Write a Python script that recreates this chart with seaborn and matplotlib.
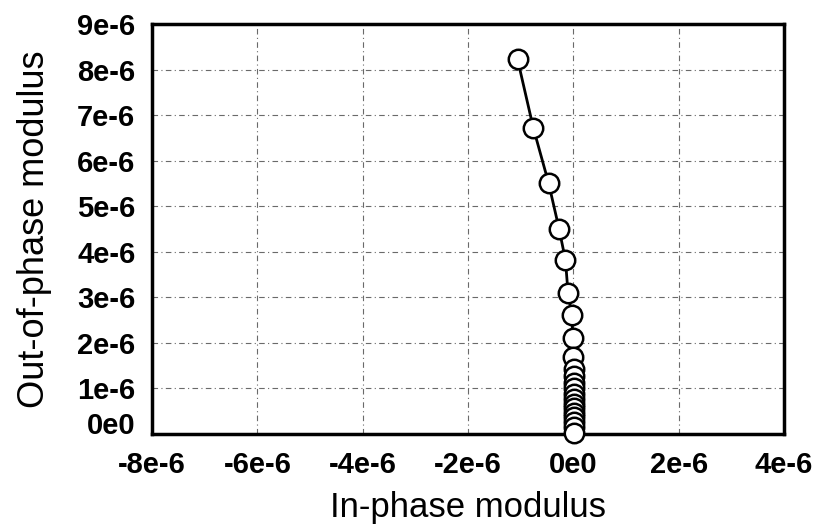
import numpy as np
import matplotlib.pyplot as plt
import seaborn as sns
import pandas as pd
from matplotlib.ticker import MultipleLocator

# in-phase / out-of-phase modulus values
in_phase = [-1.06e-6, -0.76e-6, -0.47e-6, -0.27e-6, -0.15e-6, -0.10e-6, -0.03e-6,
            -0.01e-6, 0.0, 0.01e-6, 0.01e-6, 0.02e-6, 0.02e-6, 0.02e-6, 0.02e-6,
            0.02e-6, 0.02e-6, 0.02e-6, 0.02e-6, 0.02e-6, 0.02e-6, 0.02e-6]
out_phase = [8.23e-6, 6.72e-6, 5.51e-6, 4.50e-6, 3.82e-6, 3.09e-6, 2.61e-6,
             2.11e-6, 1.69e-6, 1.43e-6, 1.27e-6, 1.13e-6, 1.00e-6, 0.88e-6, 0.77e-6,
             0.66e-6, 0.56e-6, 0.46e-6, 0.37e-6, 0.27e-6, 0.15e-6, 0.02e-6]

x_ticks = [-8e-6, -6e-6, -4e-6, -2e-6, 0, 2e-6, 4e-6]
x_labels = ["-8e-6", "-6e-6", "-4e-6", "-2e-6", "0e0", "2e-6", "4e-6"]
y_ticks = [0, 1e-6, 2e-6, 3e-6, 4e-6, 5e-6, 6e-6, 7e-6, 8e-6, 9e-6]
y_labels = ["0e0", "1e-6", "2e-6", "3e-6", "4e-6", "5e-6", "6e-6", "7e-6", "8e-6", "9e-6"]

df = pd.DataFrame({"x": in_phase, "y": out_phase})

sns.set_style("white")
plt.rcParams['font.family'] = ['Liberation Sans', 'DejaVu Sans']
plt.rcParams.update({'text.color': 'black', 'axes.labelcolor': 'black',
                     'xtick.color': 'black', 'ytick.color': 'black'})

fig = plt.figure(figsize=(8.19, 5.28), dpi=100)
ax = fig.add_axes([152/819, 1 - 434/528, (784-152)/819, (434-24)/528])

sns.lineplot(data=df, x="x", y="y", sort=False, estimator=None, color="black",
             linewidth=2, marker="o", markersize=14, markerfacecolor="white",
             markeredgecolor="black", markeredgewidth=1.8, ax=ax, zorder=3,
             clip_on=False)

ax.set_xlim(-8e-6, 4e-6)
ax.set_ylim(0, 9e-6)
ax.set_xticks(x_ticks, x_labels)
ax.set_yticks(y_ticks, y_labels)
ax.xaxis.set_minor_locator(MultipleLocator(0.5e-6))
ax.yaxis.set_minor_locator(MultipleLocator(0.2e-6))

ax.grid(True, which="major", color="#6a6a6a", linestyle=(0, (5, 3, 1, 3)), linewidth=0.8)
ax.tick_params(which="major", direction="in", length=6, width=1.5, labelsize=21)
ax.tick_params(which="minor", direction="in", length=3.5, width=1.2)
ax.tick_params(axis="x", pad=12)
ax.tick_params(axis="y", pad=12)
for lab in ax.get_xticklabels() + ax.get_yticklabels():
    lab.set_fontweight("bold")
# the 0e0 label sits a little above its tick in the original
ax.get_yticklabels()[0].set_verticalalignment("baseline")

for s in ax.spines.values():
    s.set_linewidth(2.5)
    s.set_color("black")

ax.set_xlabel("In-phase modulus", fontsize=25)
ax.set_ylabel("Out-of-phase modulus", fontsize=26)
ax.xaxis.set_label_coords(0.5, -0.138)
ax.yaxis.set_label_coords(-0.159, 0.5)

fig.savefig("out.png", dpi=100)
